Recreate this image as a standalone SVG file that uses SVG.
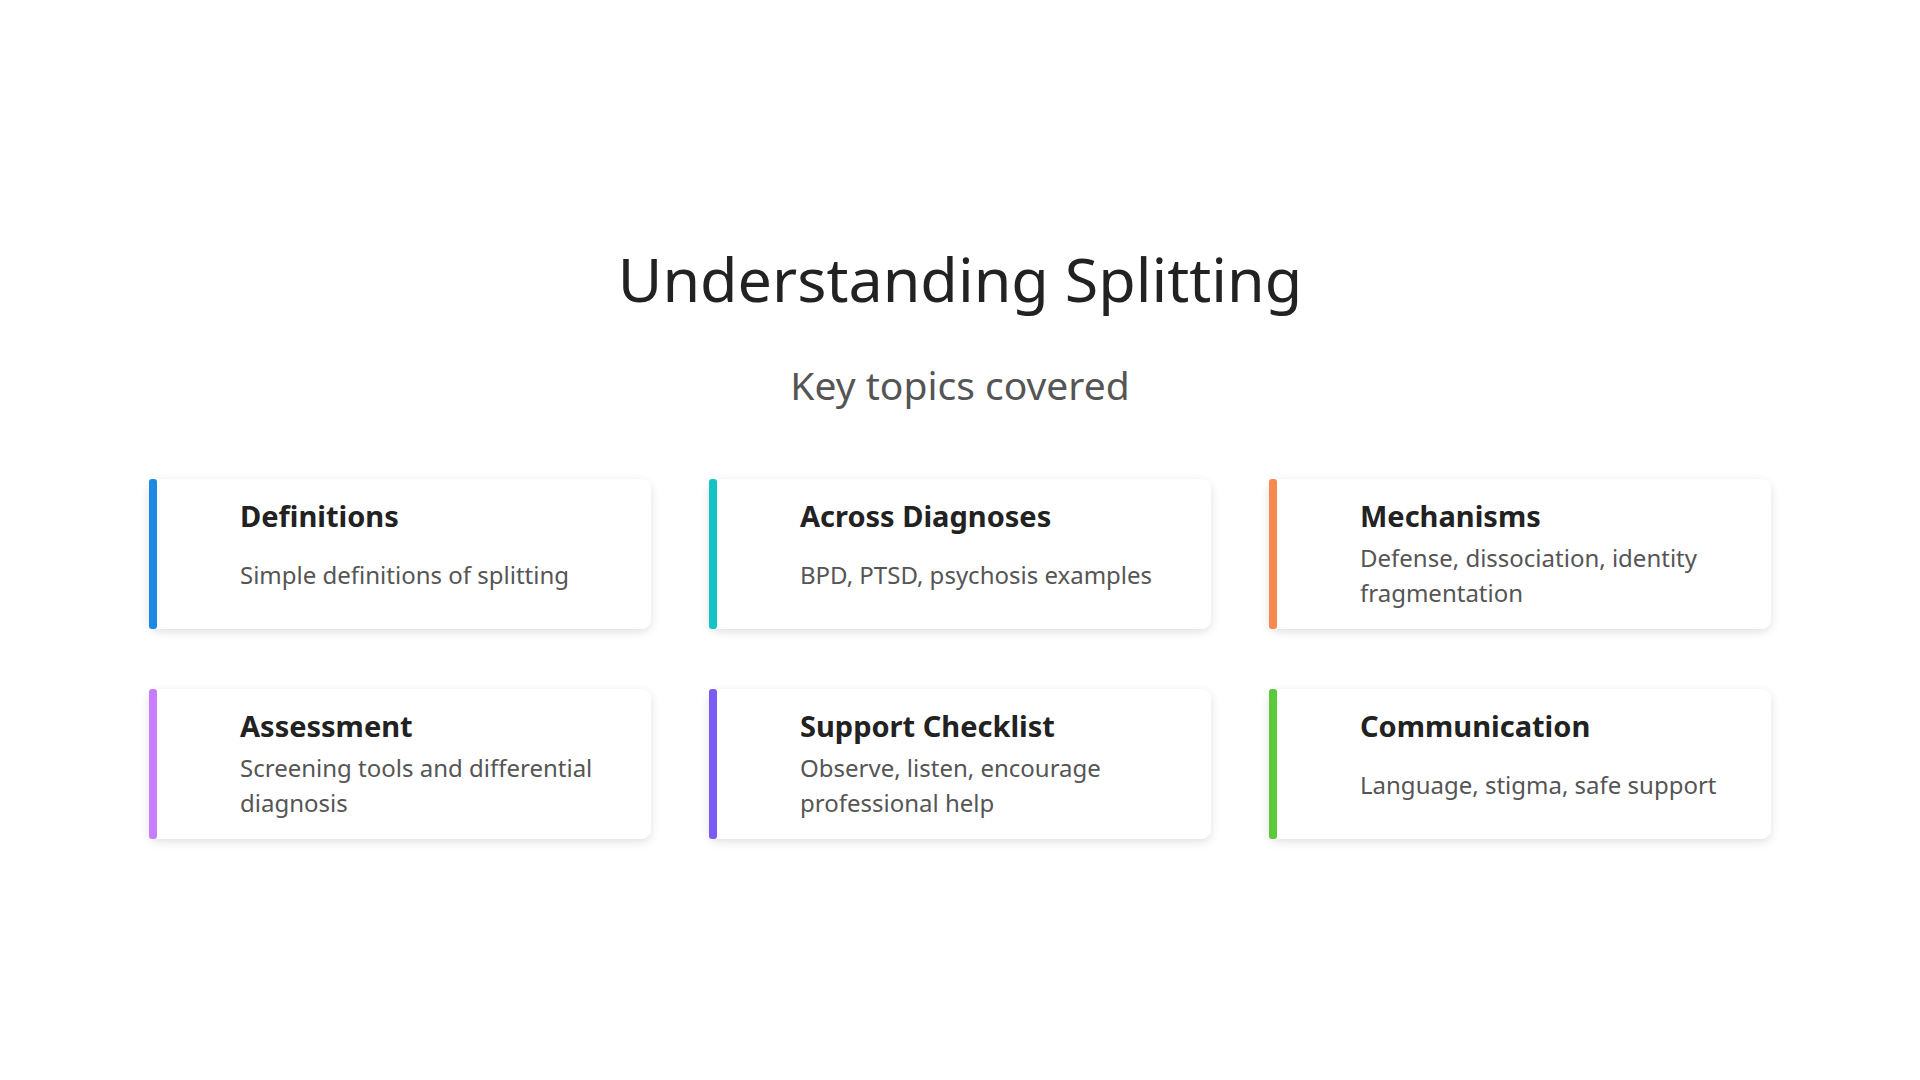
<svg xmlns="http://www.w3.org/2000/svg" width="1920" height="1080" viewBox="0 0 1920 1080">
<defs>
<filter id="sh" x="-10%" y="-20%" width="120%" height="150%"><feDropShadow dx="0" dy="3" stdDeviation="5" flood-color="#000" flood-opacity="0.12"/></filter>
<style>
text{font-family:"Noto Sans","Open Sans","DejaVu Sans",sans-serif}
.card{fill:#fff;filter:url(#sh)}
.t{font-size:29px;font-weight:700;fill:#222}
.d{font-size:24px;fill:#555}
</style>
</defs>
<rect width="1920" height="1080" fill="#fff"/>
<text x="960" y="302" text-anchor="middle" font-size="61" fill="#222">Understanding Splitting</text>
<text x="960" y="400" text-anchor="middle" font-size="39" fill="#555">Key topics covered</text>
<g id="definitions"><rect class="card" x="149" y="479" width="502" height="150" rx="10"/><rect x="149" y="479" width="8" height="150" rx="3" fill="#1e88e5"/><text class="t" x="240" y="527">Definitions</text><text class="d" x="240" y="584">Simple definitions of splitting</text></g>
<g id="across"><rect class="card" x="709" y="479" width="502" height="150" rx="10"/><rect x="709" y="479" width="8" height="150" rx="3" fill="#14c4c4"/><text class="t" x="800" y="527">Across Diagnoses</text><text class="d" x="800" y="584">BPD, PTSD, psychosis examples</text></g>
<g id="mechanisms"><rect class="card" x="1269" y="479" width="502" height="150" rx="10"/><rect x="1269" y="479" width="8" height="150" rx="3" fill="#f5894f"/><text class="t" x="1360" y="527">Mechanisms</text><text class="d" x="1360" y="567">Defense, dissociation, identity</text><text class="d" x="1360" y="602">fragmentation</text></g>
<g id="assessment"><rect class="card" x="149" y="689" width="502" height="150" rx="10"/><rect x="149" y="689" width="8" height="150" rx="3" fill="#c77dff"/><text class="t" x="240" y="737">Assessment</text><text class="d" x="240" y="777">Screening tools and differential</text><text class="d" x="240" y="812">diagnosis</text></g>
<g id="support"><rect class="card" x="709" y="689" width="502" height="150" rx="10"/><rect x="709" y="689" width="8" height="150" rx="3" fill="#7a5cf5"/><text class="t" x="800" y="737">Support Checklist</text><text class="d" x="800" y="777">Observe, listen, encourage</text><text class="d" x="800" y="812">professional help</text></g>
<g id="communication"><rect class="card" x="1269" y="689" width="502" height="150" rx="10"/><rect x="1269" y="689" width="8" height="150" rx="3" fill="#5cc83c"/><text class="t" x="1360" y="737">Communication</text><text class="d" x="1360" y="794">Language, stigma, safe support</text></g>
<g id="connectors"/>
</svg>
